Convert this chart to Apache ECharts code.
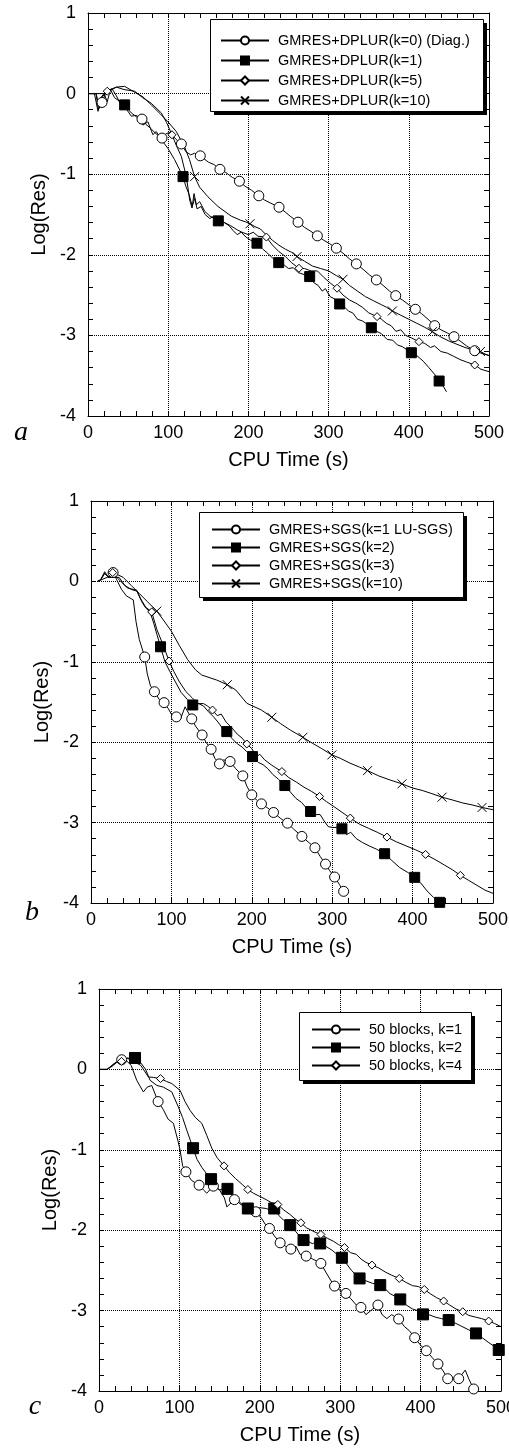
<!DOCTYPE html>
<html>
<head>
<meta charset="utf-8">
<title>Convergence histories</title>
<script src="https://cdn.jsdelivr.net/npm/echarts@6.0.0/dist/echarts.min.js"></script>
<style>
  html, body { margin: 0; padding: 0; background: #fff; }
  #chart { width: 509px; height: 1448px; }
</style>
</head>
<body>
<div id="chart"></div>
<script>
// axis ticks shared by all three panels
const xTicks = [0, 100, 200, 300, 400, 500];
const yTicks = [-4, -3, -2, -1, 0, 1];

// panel a : GMRES + DPLUR
const aNames = ['GMRES+DPLUR(k=0) (Diag.)', 'GMRES+DPLUR(k=1)', 'GMRES+DPLUR(k=5)', 'GMRES+DPLUR(k=10)'];
const aK0Line = [[0,0],[10,0],[13,-0.2],[23,0.03],[30,0.06],[35,-0.02],[40,-0.12],[47,-0.18],[54,-0.28],[60,-0.27],[72,-0.38],[78,-0.43],[85,-0.5],[97,-0.5],[102,-0.48],[110,-0.57],[122,-0.72],[128,-0.76],[133,-0.74],[150,-0.85],[157,-0.88],[172,-0.98],[180,-1.04],[196,-1.15],[204,-1.2],[220,-1.32],[228,-1.36],[246,-1.47],[252,-1.52],[270,-1.66],[278,-1.71],[294,-1.82],[301,-1.86],[318,-1.98],[326,-2.05],[343,-2.18],[351,-2.25],[368,-2.38],[376,-2.45],[392,-2.56],[400,-2.62],[416,-2.73],[424,-2.8],[440,-2.93],[448,-2.97],[464,-3.07],[472,-3.13],[490,-3.22],[500,-3.25]];
const aK0Marks = [[17.5,-0.11],[67.3,-0.316],[92.3,-0.552],[116.4,-0.625],[140,-0.772],[164.5,-0.94],[188.8,-1.087],[213,-1.268],[238.2,-1.41],[261.9,-1.595],[286,-1.765],[309.7,-1.918],[334.6,-2.113],[359.6,-2.312],[383.7,-2.507],[408.2,-2.676],[432.3,-2.879],[456.4,-3.016],[482.2,-3.19]];
const aK1Line = [[0,0],[8,0],[12.5,-0.22],[16,-0.05],[20,0],[24,-0.1],[28,0.05],[33,-0.05],[40,-0.1],[54,-0.24],[62,-0.3],[68.5,-0.39],[74.7,-0.35],[80.9,-0.51],[85,-0.47],[91.3,-0.57],[99.7,-0.68],[108,-0.82],[122,-1.15],[126,-1.25],[130,-1.4],[133,-1.3],[136,-1.43],[141,-1.4],[146,-1.5],[152,-1.55],[157,-1.52],[170,-1.6],[176,-1.64],[181,-1.7],[186,-1.75],[191,-1.72],[197,-1.78],[203,-1.82],[218,-1.93],[224,-1.98],[230,-2.04],[245,-2.13],[250,-2.17],[256,-2.16],[262,-2.22],[268,-2.24],[282,-2.35],[287,-2.38],[292,-2.45],[296,-2.42],[302,-2.52],[308,-2.55],[320,-2.65],[325,-2.7],[330,-2.72],[336,-2.8],[342,-2.82],[348,-2.86],[360,-2.95],[366,-2.98],[373,-3.05],[380,-3.06],[386,-3.12],[392,-3.14],[398,-3.18],[410,-3.25],[418,-3.32],[425,-3.4],[432,-3.48],[443,-3.63],[447,-3.7]];
const aK1Marks = [[45.7,-0.14],[118.5,-1.03],[162.5,-1.579],[210.7,-1.856],[237.8,-2.097],[276.4,-2.27],[313.8,-2.61],[353.3,-2.905],[403.2,-3.215],[437.8,-3.566]];
const aK5Line = [[0,0],[10,0],[14,-0.15],[18,-0.04],[30,0.05],[35.4,0.08],[45,0.05],[58,0.03],[68,-0.05],[78.9,-0.12],[91.4,-0.24],[98,-0.36],[110,-0.64],[116.4,-0.78],[122.6,-1.03],[126.8,-1.32],[129.7,-1.42],[132.2,-1.24],[135.1,-1.38],[139.3,-1.34],[145.5,-1.46],[152,-1.52],[162,-1.57],[170,-1.6],[178,-1.64],[186,-1.69],[192,-1.72],[200,-1.75],[206,-1.72],[212,-1.77],[230,-1.88],[238,-1.96],[246,-2.02],[254,-2.1],[270,-2.17],[278,-2.2],[286,-2.2],[294,-2.28],[302,-2.35],[318,-2.5],[326,-2.56],[334,-2.6],[342,-2.65],[350,-2.72],[366,-2.8],[372,-2.85],[378,-2.88],[384,-2.95],[390,-2.93],[396,-3.0],[403,-3.03],[420,-3.1],[427,-3.15],[432,-3.13],[440,-3.2],[448,-3.22],[456,-3.26],[464,-3.3],[472,-3.33],[490,-3.42],[500,-3.45]];
const aK5Marks = [[24,0.03],[104.7,-0.511],[222.4,-1.78],[263,-2.167],[310.5,-2.415],[360.4,-2.767],[412.7,-3.078],[482.2,-3.367]];
const aK10Line = [[0,0],[10,0],[20,0],[28,0.05],[35,0.08],[45.7,0.09],[56,0.03],[68.5,-0.04],[78.9,-0.14],[90,-0.25],[99.7,-0.35],[110,-0.47],[120.4,-0.66],[126.6,-0.82],[139.1,-1.16],[149.5,-1.28],[162,-1.4],[178.6,-1.52],[190,-1.57],[196,-1.59],[208,-1.65],[215,-1.68],[222,-1.75],[230,-1.82],[238,-1.88],[246,-1.93],[254,-1.97],[270,-2.08],[280,-2.14],[290,-2.17],[300,-2.2],[310,-2.26],[326,-2.38],[336,-2.45],[346,-2.52],[356,-2.57],[366,-2.62],[372,-2.65],[390,-2.75],[400,-2.8],[410,-2.85],[420,-2.9],[440,-3.02],[450,-3.07],[460,-3.11],[470,-3.15],[480,-3.18],[495,-3.23],[500,-3.25]];
const aK10Marks = [[132.9,-1.03],[202,-1.615],[260.6,-2.022],[318,-2.303],[379.5,-2.697],[429.4,-2.954],[489.3,-3.2]];

// panel b : GMRES + SGS
const bNames = ['GMRES+SGS(k=1 LU-SGS)', 'GMRES+SGS(k=2)', 'GMRES+SGS(k=3)', 'GMRES+SGS(k=10)'];
const bK1Line = [[8,0],[12,0.02],[17,0.1],[22,0.05],[32,0.02],[38,-0.1],[44,-0.18],[52.6,-0.23],[56,-0.5],[60,-0.72],[70,-1.15],[74,-1.3],[85,-1.47],[96,-1.58],[101,-1.67],[111,-1.72],[117,-1.56],[130,-1.8],[143,-2.0],[154,-2.2],[165,-2.22],[180,-2.33],[194,-2.55],[206,-2.72],[220,-2.82],[236,-2.95],[252,-3.08],[270,-3.24],[285,-3.42],[297,-3.6],[309,-3.77]];
const bK1Marks = [[27.5,0.11],[66.8,-0.94],[78.9,-1.372],[90.9,-1.508],[106.2,-1.685],[125.3,-1.71],[138.2,-1.91],[149.4,-2.088],[159.8,-2.27],[173,-2.24],[188.8,-2.419],[200,-2.655],[212,-2.767],[227,-2.874],[244.4,-3.007],[262.3,-3.172],[278.5,-3.313],[291.7,-3.516],[303,-3.677],[314.2,-3.855]];
const bK2Line = [[8,0],[12,0.02],[17,0.12],[22,0.05],[35,0.05],[42,-0.05],[50,-0.1],[57,-0.12],[63,-0.25],[68,-0.33],[73.4,-0.38],[78,-0.52],[82,-0.66],[92,-1.0],[98,-1.12],[105,-1.25],[112,-1.38],[120,-1.47],[134,-1.52],[140,-1.55],[146,-1.62],[152,-1.68],[158,-1.75],[163,-1.82],[175,-1.95],[182,-2.02],[188,-2.06],[194,-2.12],[208,-2.25],[214,-2.28],[220,-2.33],[226,-2.4],[233,-2.46],[248,-2.62],[255,-2.7],[262,-2.75],[268,-2.82],[280,-2.9],[285,-2.9],[290,-2.98],[295,-3.05],[300,-3.06],[306,-3.06],[318,-3.15],[323,-3.12],[330,-3.2],[338,-3.25],[346,-3.29],[355,-3.33],[374,-3.47],[384,-3.56],[394,-3.62],[410,-3.75],[418,-3.85],[426,-3.93]];
const bK2Marks = [[86.5,-0.813],[126.6,-1.537],[168.9,-1.868],[200.9,-2.179],[241.1,-2.539],[273.1,-2.862],[312.1,-3.077],[365.2,-3.387],[402.6,-3.681],[433.7,-3.992]];
const bK3Line = [[8,0],[12,0.02],[17,0.1],[22,0.05],[35,0.02],[45,-0.08],[56.9,-0.11],[62,-0.22],[68,-0.32],[82,-0.6],[88,-0.75],[93,-0.88],[103,-1.12],[110,-1.25],[118,-1.37],[126,-1.45],[133,-1.52],[140,-1.52],[145,-1.55],[157,-1.67],[162,-1.65],[168,-1.75],[175,-1.82],[182,-1.9],[188,-1.95],[200,-2.08],[206,-2.18],[210,-2.15],[216,-2.22],[224,-2.28],[230,-2.32],[246,-2.44],[256,-2.5],[265,-2.56],[274,-2.61],[293,-2.74],[302,-2.8],[312,-2.87],[334,-3.02],[345,-3.07],[356,-3.12],[380,-3.24],[392,-3.29],[404,-3.34],[428,-3.46],[440,-3.53],[450,-3.59],[470,-3.72],[480,-3.78],[490,-3.84],[500,-3.88]];
const bK3Marks = [[27,0.11],[75.5,-0.38],[97.1,-0.99],[151.1,-1.6],[193.8,-2.022],[237.4,-2.365],[284.3,-2.675],[322.5,-2.944],[368.1,-3.18],[416.2,-3.396],[459.4,-3.656]];
const bK10Line = [[8,0],[20,0.05],[30,0.1],[40,0.05],[50,-0.05],[60,-0.15],[70,-0.25],[90,-0.48],[100,-0.62],[110,-0.8],[120,-0.97],[130,-1.1],[137.8,-1.165],[156.4,-1.227],[180,-1.35],[193.8,-1.516],[212,-1.6],[236,-1.77],[248,-1.85],[275,-2.01],[287,-2.08],[310,-2.2],[322,-2.26],[334,-2.31],[358,-2.42],[372,-2.47],[400,-2.57],[412,-2.6],[424,-2.64],[450,-2.72],[462,-2.755],[474,-2.78],[500,-2.84]];
const bK10Marks = [[81.8,-0.37],[169.5,-1.285],[224.9,-1.69],[263.5,-1.939],[299.6,-2.158],[344,-2.353],[386.8,-2.518],[436.6,-2.684],[486.4,-2.812]];

// panel c : 50 blocks
const cNames = ['50 blocks, k=1', '50 blocks, k=2', '50 blocks, k=4'];
const cK1Line = [[0,0],[10,0],[18,0.05],[23,0.1],[35,0.1],[40,0.05],[46.9,-0.135],[55.2,-0.28],[60,-0.22],[65.6,-0.2],[80,-0.5],[86,-0.62],[92.5,-0.67],[98,-0.88],[100.8,-1.0],[104,-1.2],[115,-1.38],[130,-1.5],[134,-1.54],[150,-1.5],[156,-1.6],[159,-1.71],[175,-1.65],[182,-1.72],[188,-1.75],[202,-1.85],[207,-1.93],[218,-2.07],[232,-2.2],[245,-2.2],[250,-2.3],[264,-2.35],[270,-2.38],[282,-2.52],[288,-2.62],[300,-2.75],[313,-2.85],[320,-2.93],[332,-3.05],[338,-3.0],[352,-3.05],[358,-3.1],[364,-3.05],[380,-3.2],[386,-3.25],[400,-3.43],[414,-3.58],[428,-3.75],[440,-3.85],[455.5,-3.74],[460,-3.85]];
const cK1Marks = [[28.2,0.12],[73.5,-0.4],[108.1,-1.274],[124.5,-1.44],[142.3,-1.452],[168.5,-1.62],[195,-1.771],[212,-1.978],[225.3,-2.157],[238.6,-2.235],[257.7,-2.322],[276,-2.413],[293,-2.695],[307.1,-2.786],[325.8,-2.96],[346.9,-2.931],[372.7,-3.105],[392.6,-3.337],[407.1,-3.499],[421.6,-3.664],[433.7,-3.847],[447.4,-3.847],[466,-3.975]];
const cK2Line = [[0,0],[10,0],[20,0.08],[28,0.12],[35,0.14],[52,0.08],[58,0],[63.5,-0.135],[72,-0.2],[80,-0.22],[90.5,-0.28],[98.8,-0.47],[104,-0.6],[109.2,-0.756],[122,-1.12],[128,-1.22],[134,-1.3],[145,-1.45],[150,-1.5],[155,-1.48],[165,-1.55],[170,-1.62],[175,-1.67],[180,-1.7],[192,-1.72],[200,-1.72],[208,-1.73],[213,-1.75],[224,-1.82],[230,-1.88],[245,-2.02],[250,-2.08],[260,-2.14],[266,-2.17],[270,-2.13],[282,-2.2],[290,-2.25],[296,-2.3],[308,-2.42],[314,-2.5],[320,-2.56],[332,-2.63],[340,-2.66],[356,-2.73],[362,-2.79],[368,-2.82],[382,-2.93],[390,-2.98],[396,-3.0],[410,-3.05],[418,-3.08],[426,-3.1],[442,-3.15],[450,-3.19],[460,-3.24],[477,-3.34],[485,-3.4],[491,-3.44],[500,-3.52]];
const cK2Marks = [[44.8,0.142],[117,-0.98],[139.4,-1.365],[159.8,-1.486],[185.1,-1.73],[217.9,-1.73],[237.8,-1.937],[254.4,-2.123],[275.1,-2.165],[302.1,-2.343],[324.1,-2.6],[349.8,-2.683],[374.7,-2.861],[403,-3.047],[434.9,-3.118],[468.9,-3.284],[497.2,-3.49]];
const cK4Line = [[0,0],[10,0],[20,0.08],[35,0.14],[52,0.05],[61.4,-0.094],[68,-0.1],[84,-0.15],[90.5,-0.176],[100.8,-0.26],[107,-0.4],[113.3,-0.51],[120,-0.6],[127.8,-0.67],[134,-0.82],[140.3,-0.98],[147,-1.1],[162,-1.28],[170,-1.36],[178,-1.43],[192,-1.54],[200,-1.58],[208,-1.62],[215,-1.66],[230,-1.75],[237,-1.8],[244,-1.86],[258,-1.97],[264,-2.0],[270,-2.03],[284,-2.1],[292,-2.14],[298,-2.18],[313,-2.28],[320,-2.3],[326,-2.36],[332,-2.4],[348,-2.47],[356,-2.52],[364,-2.56],[382,-2.65],[390,-2.69],[397,-2.7],[412,-2.79],[420,-2.84],[436,-2.93],[444,-2.98],[460,-3.06],[468,-3.08],[476,-3.1],[492,-3.16],[500,-3.2]];
const cK4Marks = [[28,0.1],[76.5,-0.114],[155.5,-1.2],[185.1,-1.494],[222.4,-1.68],[251.1,-1.908],[276,-2.053],[305.4,-2.215],[339.5,-2.434],[373.5,-2.6],[404.6,-2.737],[428.7,-2.881],[452.4,-3.014],[484.7,-3.13]];

const FONT = '"Liberation Sans", Arial, sans-serif';
const CROSS = 'path://M0,0L10,10M0,10L10,0';

// merge the trace and its marker points, markers keep the symbol
function merge(line, marks) {
  const pts = line
    .filter(p => !marks.some(m => Math.abs(m[0] - p[0]) < 1.5))
    .map(p => ({ value: p, symbol: 'none' }));
  marks.forEach(m => pts.push({ value: m }));
  pts.sort((a, b) => a.value[0] - b.value[0]);
  return pts;
}

function series(name, panel, symbol, size, fill, line, marks) {
  return {
    name: name,
    type: 'line',
    xAxisIndex: panel * 2,
    yAxisIndex: panel * 2,
    data: merge(line, marks),
    symbol: symbol,
    symbolSize: size,
    showSymbol: true,
    showAllSymbol: true,
    lineStyle: { color: '#000', width: 1 },
    itemStyle: { color: fill, borderColor: '#000', borderWidth: 1 },
    silent: true,
    animation: false,
  };
}

const grids = [
  { left: 88, top: 13, width: 401, height: 403 },
  { left: 91, top: 501, width: 402, height: 402 },
  { left: 99, top: 989, width: 402, height: 402 },
];

// legend frames: [left, top, width, height]
const boxes = [[210, 19, 273, 92], [199, 512, 264, 85], [299, 1012, 172, 68]];

const tickStyle = { color: '#000', width: 1 };
let xAxes = [], yAxes = [];
grids.forEach((g, i) => {
  ['bottom', 'top'].forEach(pos => {
    xAxes.push({
      gridIndex: i, type: 'value', position: pos,
      min: xTicks[0], max: xTicks[xTicks.length - 1], interval: xTicks[1] - xTicks[0],
      name: pos === 'bottom' ? 'CPU Time (s)' : '',
      nameLocation: 'middle', nameGap: 34,
      nameTextStyle: { fontSize: 20, color: '#000', fontFamily: FONT },
      axisLine: { onZero: false, lineStyle: tickStyle },
      axisTick: { inside: true, length: 5, lineStyle: tickStyle },
      minorTick: { show: true, splitNumber: 5, length: 5, lineStyle: tickStyle },
      axisLabel: { show: pos === 'bottom', fontSize: 18, color: '#000', margin: 8, fontFamily: FONT },
      splitLine: { show: pos === 'bottom', lineStyle: { color: '#000', type: 'dotted', width: 1 } },
    });
  });
  ['left', 'right'].forEach(pos => {
    yAxes.push({
      gridIndex: i, type: 'value', position: pos,
      min: yTicks[0], max: yTicks[yTicks.length - 1], interval: yTicks[1] - yTicks[0],
      name: pos === 'left' ? 'Log(Res)' : '',
      nameLocation: 'middle', nameGap: 36,
      nameTextStyle: { fontSize: 20, color: '#000', fontFamily: FONT },
      axisLine: { onZero: false, lineStyle: tickStyle },
      axisTick: { inside: true, length: 5, lineStyle: tickStyle },
      minorTick: { show: true, splitNumber: 5, length: 5, lineStyle: tickStyle },
      axisLabel: { show: pos === 'left', fontSize: 18, color: '#000', margin: 12, fontFamily: FONT },
      splitLine: { show: pos === 'left', lineStyle: { color: '#000', type: 'dotted', width: 1 } },
    });
  });
});

function legend(names, box, gap, padding) {
  return {
    data: names, orient: 'vertical', left: box[0], top: box[1], z: 10,
    itemWidth: 48, itemHeight: 10, itemGap: gap, padding: padding,
    selectedMode: false,
    textStyle: { fontSize: 14.5, color: '#000', fontFamily: FONT, padding: [0, 0, 0, 4] },
  };
}

// framed legend box with a hard drop shadow
function frame(b) {
  return [
    { type: 'rect', z: 8, shape: { x: b[0] + 4, y: b[1] + 4, width: b[2], height: b[3] }, style: { fill: '#000' } },
    { type: 'rect', z: 9, shape: { x: b[0] + 0.5, y: b[1] + 0.5, width: b[2], height: b[3] }, style: { fill: '#fff', stroke: '#000', lineWidth: 1 } },
  ];
}

function letter(t, x, y) {
  return { type: 'text', x: x, y: y, style: { text: t, font: 'italic 28px "Liberation Serif"', fill: '#000', align: 'center', verticalAlign: 'middle' } };
}

const option = {
  backgroundColor: '#fff',
  animation: false,
  grid: grids.map(g => Object.assign({ outerBoundsMode: 'none', containLabel: false }, g)),
  xAxis: xAxes,
  yAxis: yAxes,
  legend: [
    legend(aNames, boxes[0], 5, [14, 13, 6, 10]),
    legend(bNames, boxes[1], 3, [10, 11, 8, 12]),
    legend(cNames, boxes[2], 3, [10, 11, 8, 12]),
  ],
  graphic: [].concat(frame(boxes[0]), frame(boxes[1]), frame(boxes[2]),
    [letter('a', 21, 433), letter('b', 32, 913), letter('c', 35, 1407)]),
  series: [
    series(aNames[0], 0, 'circle', 10, '#fff', aK0Line, aK0Marks),
    series(aNames[1], 0, 'rect', 10, '#000', aK1Line, aK1Marks),
    series(aNames[2], 0, 'diamond', 8, '#fff', aK5Line, aK5Marks),
    series(aNames[3], 0, CROSS, 9, '#000', aK10Line, aK10Marks),
    series(bNames[0], 1, 'circle', 10, '#fff', bK1Line, bK1Marks),
    series(bNames[1], 1, 'rect', 10, '#000', bK2Line, bK2Marks),
    series(bNames[2], 1, 'diamond', 8, '#fff', bK3Line, bK3Marks),
    series(bNames[3], 1, CROSS, 9, '#000', bK10Line, bK10Marks),
    series(cNames[0], 2, 'circle', 10, '#fff', cK1Line, cK1Marks),
    series(cNames[1], 2, 'rect', 11, '#000', cK2Line, cK2Marks),
    series(cNames[2], 2, 'diamond', 8, '#fff', cK4Line, cK4Marks),
  ],
};

const chart = echarts.init(document.getElementById('chart'), null, { renderer: 'canvas' });
chart.setOption(option);
</script>
</body>
</html>
